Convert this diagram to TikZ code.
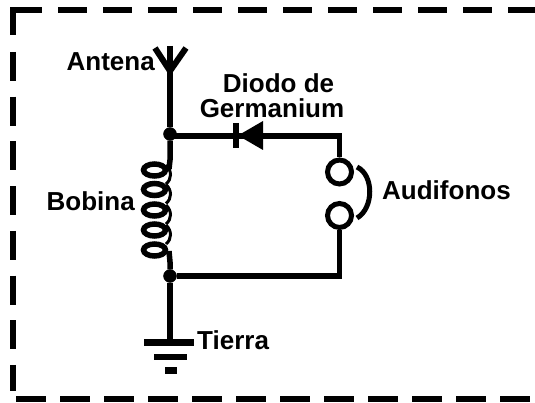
\documentclass[tikz,border=0pt]{standalone}
\usepackage{fontspec}
\setmainfont{Liberation Sans}
\usetikzlibrary{arrows.meta}

\begin{document}
\begin{tikzpicture}[x=1pt, y=-1pt,
    wire/.style = {line width=5.5pt},
    frame/.style = {line width=6pt},
    dot/.style = {draw, circle, fill=black, inner sep=0pt, minimum size=13pt},
    phone/.style = {draw, circle, line width=5pt, inner sep=0pt, minimum size=24pt},
    lbl/.style = {font=\bfseries\fontsize{26}{26}\selectfont, inner sep=0pt}]
    \useasboundingbox (0,0) rectangle (535,403);
    % dashed border
    \draw[frame] (13,35) -- (13,10.5) -- (42,10.5);
    \draw[frame, dash pattern=on 29pt off 16pt] (58,10.5) -- (535,10.5);
    \draw[frame, dash pattern=on 29pt off 15.7pt] (13,52) -- (13,391);
    \draw[frame, dash pattern=on 30pt off 14pt] (16,399) -- (535,399);

    \coordinate (antTop) at (170,46);
    \coordinate (antV) at (170,71);
    \coordinate (antL) at (155,48);
    \coordinate (antR) at (186,48);
    \node[dot] (J1) at (170,134) {};
    \node[dot] (J2) at (170,276) {};
    \coordinate (coilTop) at (169,169);
    \coordinate (coilBot) at (169,251);
    \coordinate (G1) at (170,342);
    \coordinate (corner1) at (339.5,136);
    \coordinate (corner2) at (339.5,276);
    \coordinate (wireA) at (170,136);
    \node[phone] (P1) at (339.5,172) {};
    \node[phone] (P2) at (339.5,215.5) {};

    \coordinate (diodeTip) at (238,135.5);
    \coordinate (diodeTop) at (263,121);
    \coordinate (diodeBot) at (263,150);
    \coordinate (barTop) at (236,123);
    \coordinate (barBot) at (236,148);

    % antenna
    \draw[wire] (antTop) -- (J1);
    \draw[line width=6pt] (antL) -- (antV) -- (antR);

    % coil
    \draw[wire] (J1) -- (170,160) -- (coilTop);
    \draw[wire] (coilBot) -- (170,262) -- (J2);
    \foreach \yy in {170,189.5,210,230,250} {
        \draw[line width=5.5pt] (154.5,\yy) ellipse (11pt and 6pt);
    }
    \foreach \yy in {170,189.5,210,230} {
        \draw[line width=3pt] (166,\yy-5) .. controls (172,\yy+1) and (172,\yy+9) .. (166,\yy+14);
    }

    % diode and earphones
    \draw[wire] (wireA) -- (corner1) -- (P1);
    \draw[line width=6pt] (barTop) -- (barBot);
    \fill (diodeTip) -- (diodeTop) -- (diodeBot) -- cycle;
    \draw[wire] (P2) -- (corner2) -- (J2);
    \draw[line width=5pt] (357,167) .. controls (374,175) and (374,208) .. (357,218);

    % earth
    \draw[wire] (J2) -- (G1);
    \draw[line width=6.5pt] (144,342.5) -- (194,342.5);
    \draw[line width=6.5pt] (154,357) -- (187,357);
    \draw[line width=6.5pt] (165,370.5) -- (177,370.5);

    \node[lbl, anchor=east] (antena) at (155,62) {Antena};
    \node[lbl] (diodo) at (278.5,83) {Diodo de};
    \node[lbl] (germanium) at (272,108) {Germanium};
    \node[lbl, anchor=east] (bobina) at (135,201) {Bobina};
    \node[lbl, anchor=west] (audifonos) at (382,190) {Audifonos};
    \node[lbl, anchor=west] (tierra) at (197,340) {Tierra};
\end{tikzpicture}
\end{document}
